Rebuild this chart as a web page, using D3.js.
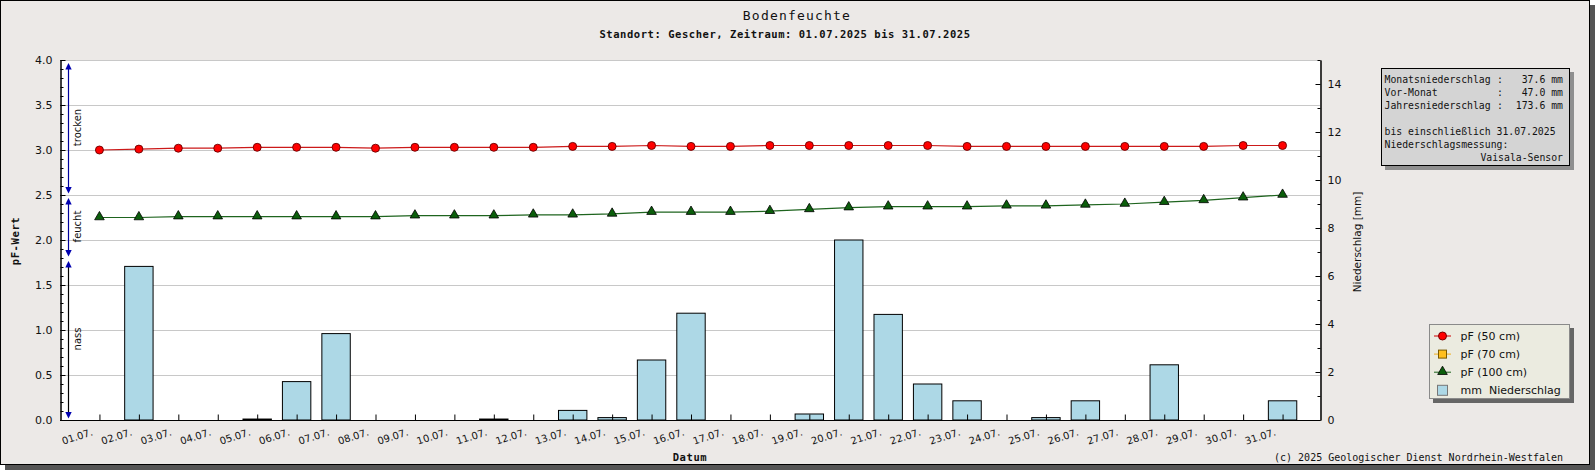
<!DOCTYPE html>
<html>
<head>
<meta charset="utf-8">
<script src="https://cdn.jsdelivr.net/npm/d3@7"></script>
<style>
  body { margin: 0; background: #fff; }
  #viz svg { display: block; }
</style>
</head>
<body>
<div id="viz"></div>
<script>
// Tageswerte Juli 2025
const days = d3.range(1, 32);
const dayLabels = days.map(d => String(d).padStart(2, '0') + '.07.');
const pf50 = [3.00, 3.01, 3.02, 3.02, 3.03, 3.03, 3.03, 3.02, 3.03, 3.03, 3.03, 3.03, 3.04, 3.04, 3.05,
  3.04, 3.04, 3.05, 3.05, 3.05, 3.05, 3.05, 3.04, 3.04, 3.04, 3.04, 3.04, 3.04, 3.04, 3.05, 3.05];
const pf70 = [];
const pf100 = [2.25, 2.25, 2.26, 2.26, 2.26, 2.26, 2.26, 2.26, 2.27, 2.27, 2.27, 2.28, 2.28, 2.29, 2.31,
  2.31, 2.31, 2.32, 2.34, 2.36, 2.37, 2.37, 2.37, 2.38, 2.38, 2.39, 2.40, 2.42, 2.44, 2.47, 2.50];
const rain = [0, 6.4, 0, 0, 0.04, 1.6, 3.6, 0, 0, 0, 0.04, 0, 0.4, 0.1, 2.5,
  4.45, 0, 0, 0.25, 7.5, 4.4, 1.5, 0.8, 0, 0.1, 0.8, 0, 2.3, 0, 0, 0.8];

const pfTicks = [0, 0.5, 1, 1.5, 2, 2.5, 3, 3.5, 4];
const pfMinor = d3.range(0, 41).map(i => i / 10);
const mmTicks = [0, 2, 4, 6, 8, 10, 12, 14];
const mmMinor = [1, 3, 5, 7, 9, 11, 13, 15];

const zones = [
  { name: 'trocken', from: 2.5, to: 4.0, line: '#00009c' },
  { name: 'feucht', from: 1.8, to: 2.5, line: '#00009c' },
  { name: 'nass', from: 0, to: 1.8, line: '#000' }
];

const infoRows = [
  ['Monatsniederschlag', '37.6 mm'],
  ['Vor-Monat', '47.0 mm'],
  ['Jahresniederschlag', '173.6 mm']
];

const legendItems = [
  { label: 'pF (50 cm)', type: 'circle', color: '#ff0000', stroke: '#7a0000', line: '#cc0000' },
  { label: 'pF (70 cm)', type: 'square', color: '#ffbf1f', stroke: '#7a5a00', line: '#f0b020' },
  { label: 'pF (100 cm)', type: 'triangle', color: '#0b5e0b', stroke: '#000', line: '#1e641e' },
  { label: 'mm  Niederschlag', type: 'box', color: '#add8e6', stroke: '#777' }
];

const W = 1595, H = 470;
const L = 60, R = 1320, T = 60, B = 420;
const mono = '"DejaVu Sans Mono", monospace';
const sans = '"DejaVu Sans", sans-serif';

const svg = d3.select('#viz').append('svg')
  .attr('width', W)
  .attr('height', H);

// RAHMEN mit Schatten
svg.append('rect').attr('x', 5).attr('y', 5).attr('width', W - 5).attr('height', H - 5).attr('fill', '#555');
svg.append('rect').attr('x', 0.5).attr('y', 0.5).attr('width', 1589).attr('height', 464)
  .attr('fill', '#ece9e7').attr('stroke', '#000');

const x = d3.scaleLinear().domain([0, 32]).range([L, 1322]);
const yL = d3.scaleLinear().domain([0, 4]).range([B, T]);
const yR = d3.scaleLinear().domain([0, 15]).range([B, T]);

svg.append('rect').attr('x', L).attr('y', T).attr('width', R - L).attr('height', B - T).attr('fill', '#fff');

// GRID
svg.append('g').selectAll('line').data(pfTicks.filter(d => d > 0)).join('line')
  .attr('x1', L).attr('x2', R)
  .attr('y1', d => yL(d) + 0.5).attr('y2', d => yL(d) + 0.5)
  .attr('stroke', '#c8c8c8');

// NIEDERSCHLAG
const bw = 28.4;
svg.append('g').selectAll('rect').data(days).join('rect')
  .attr('x', (d, i) => x(d) - bw / 2)
  .attr('y', (d, i) => yR(rain[i]))
  .attr('width', bw)
  .attr('height', (d, i) => B - yR(rain[i]))
  .attr('fill', '#add8e6')
  .attr('stroke', '#000')
  .attr('display', (d, i) => rain[i] > 0 ? null : 'none');

// LINIEN
const line = d3.line().x(d => x(d[0])).y(d => yL(d[1]));
const s50 = days.map((d, i) => [d, pf50[i]]);
const s100 = days.map((d, i) => [d, pf100[i]]);
svg.append('path').datum(s50).attr('d', line).attr('fill', 'none').attr('stroke', '#cc1a1a').attr('stroke-width', 1.2);
svg.append('path').datum(s100).attr('d', line).attr('fill', 'none').attr('stroke', '#1e641e').attr('stroke-width', 1.2);

svg.append('g').selectAll('circle').data(s50).join('circle')
  .attr('cx', d => x(d[0])).attr('cy', d => yL(d[1])).attr('r', 4)
  .attr('fill', '#ff0000').attr('stroke', '#6a0000').attr('stroke-width', 0.9);
const tri = d3.symbol(d3.symbolTriangle).size(40);
svg.append('g').selectAll('path').data(s100).join('path')
  .attr('transform', d => `translate(${x(d[0])},${yL(d[1]) - 0.5})`)
  .attr('d', tri)
  .attr('fill', '#0b5e0b').attr('stroke', '#000').attr('stroke-width', 0.8);

// ACHSEN
function styleAxis(g) {
  g.selectAll('.domain').attr('stroke', '#000');
  g.selectAll('.tick line').attr('stroke', '#000');
  g.selectAll('text').attr('fill', '#111').attr('font-family', sans).attr('font-size', 11);
}
svg.append('g').attr('transform', `translate(${L + 0.5},0)`)
  .call(d3.axisLeft(yL).tickValues(pfMinor).tickSizeInner(-3).tickSizeOuter(0).tickFormat(''))
  .call(styleAxis);
svg.append('g').attr('transform', `translate(${L + 0.5},0)`)
  .call(d3.axisLeft(yL).tickValues(pfTicks).tickSizeInner(-5).tickSizeOuter(0).tickPadding(8).tickFormat(d3.format('.1f')))
  .call(styleAxis);

svg.append('g').attr('transform', `translate(${R + 0.5},0)`)
  .call(d3.axisRight(yR).tickValues(mmMinor).tickSizeInner(-3).tickSizeOuter(0).tickFormat(''))
  .call(styleAxis);
svg.append('g').attr('transform', `translate(${R + 0.5},0)`)
  .call(d3.axisRight(yR).tickValues(mmTicks).tickSizeInner(-5).tickSizeOuter(0).tickPadding(7))
  .call(styleAxis);

const xAxis = svg.append('g').attr('transform', `translate(0,${B + 0.5})`)
  .call(d3.axisBottom(x).tickValues(days).tickSizeInner(-6).tickSizeOuter(0).tickFormat(''))
  .call(styleAxis);
xAxis.select('.domain').attr('d', `M${L},0H${R + 0.5}`);

svg.append('g').selectAll('text').data(days).join('text')
  .attr('transform', d => `translate(${x(d) - 6},${B + 15}) rotate(-18)`)
  .attr('text-anchor', 'end')
  .attr('font-family', sans).attr('font-size', 10).attr('fill', '#111')
  .text((d, i) => dayLabels[i]);

// ZONEN
const zx = 68.5;
const zg = svg.append('g');
zones.forEach(z => {
  const yTop = yL(z.to) + 3, yBot = yL(z.from) - 1.5;
  zg.append('line').attr('x1', zx).attr('x2', zx).attr('y1', yTop + 4).attr('y2', yBot - 4)
    .attr('stroke', z.line).attr('stroke-width', 1.2);
  zg.append('path').attr('d', `M${zx},${yTop}l-3.2,6.5h6.4z`).attr('fill', '#0000b0');
  zg.append('path').attr('d', `M${zx},${yBot}l-3.2,-6.5h6.4z`).attr('fill', '#0000b0');
  zg.append('text')
    .attr('transform', `translate(${zx + 12},${(yL(z.to) + yL(z.from)) / 2}) rotate(-90)`)
    .attr('text-anchor', 'middle')
    .attr('font-family', sans).attr('font-size', 10).attr('fill', '#111')
    .text(z.name);
});

// TITEL
svg.append('text').attr('x', 797).attr('y', 19.5).attr('text-anchor', 'middle')
  .attr('font-family', mono).attr('font-size', 13).attr('letter-spacing', 1.2).attr('fill', '#111')
  .text('Bodenfeuchte');
svg.append('text').attr('x', 785).attr('y', 37.5).attr('text-anchor', 'middle')
  .attr('font-family', mono).attr('font-weight', 'bold').attr('font-size', 10.5).attr('letter-spacing', 0.55).attr('fill', '#111')
  .text('Standort: Gescher, Zeitraum: 01.07.2025 bis 31.07.2025');

svg.append('text').attr('x', 690).attr('y', 461).attr('text-anchor', 'middle')
  .attr('font-family', mono).attr('font-weight', 'bold').attr('font-size', 10.5).attr('letter-spacing', 0.6).attr('fill', '#111')
  .text('Datum');
svg.append('text').attr('transform', 'translate(19,241) rotate(-90)').attr('text-anchor', 'middle')
  .attr('font-family', mono).attr('font-weight', 'bold').attr('font-size', 10.5).attr('letter-spacing', 0.6).attr('fill', '#111')
  .text('pF-Wert');
svg.append('text').attr('transform', 'translate(1361,242) rotate(-90)').attr('text-anchor', 'middle')
  .attr('font-family', sans).attr('font-size', 10.5).attr('fill', '#111')
  .text('Niederschlag [mm]');
svg.append('text').attr('x', 1563).attr('y', 461).attr('text-anchor', 'end')
  .attr('font-family', mono).attr('font-size', 10).attr('fill', '#111')
  .text('(c) 2025 Geologischer Dienst Nordrhein-Westfalen');

// INFOBOX
const ib = svg.append('g');
ib.append('rect').attr('x', 1385).attr('y', 72).attr('width', 189).attr('height', 98).attr('fill', '#8f8f8f');
ib.append('rect').attr('x', 1381.5).attr('y', 68.5).attr('width', 188).attr('height', 97)
  .attr('fill', '#d4d4d4').attr('stroke', '#000');
const itxt = (xx, yy, s, anchor) => ib.append('text').attr('x', xx).attr('y', yy)
  .attr('text-anchor', anchor || 'start')
  .attr('font-family', mono).attr('font-size', 9.8).attr('fill', '#111').text(s);
infoRows.forEach((r, i) => {
  const yy = 83 + i * 13;
  itxt(1384.5, yy, r[0]);
  itxt(1497, yy, ':');
  itxt(1563, yy, r[1], 'end');
});
itxt(1384.5, 135, 'bis einschließlich 31.07.2025');
itxt(1384.5, 148, 'Niederschlagsmessung:');
itxt(1563, 161, 'Vaisala-Sensor', 'end');

// LEGENDE
const lg = svg.append('g');
lg.append('rect').attr('x', 1433).attr('y', 328).attr('width', 141).attr('height', 75).attr('fill', '#666');
lg.append('rect').attr('x', 1429.5).attr('y', 324.5).attr('width', 140).attr('height', 74)
  .attr('fill', '#ebebe0').attr('stroke', '#8a8a8a');
legendItems.forEach((it, i) => {
  const cy = 336 + i * 18.1, cx = 1442.5;
  if (it.line) lg.append('line').attr('x1', 1434).attr('x2', 1451).attr('y1', cy).attr('y2', cy).attr('stroke', it.line);
  if (it.type === 'circle') lg.append('circle').attr('cx', cx).attr('cy', cy).attr('r', 4).attr('fill', it.color).attr('stroke', it.stroke);
  if (it.type === 'square') lg.append('rect').attr('x', cx - 4).attr('y', cy - 4).attr('width', 8).attr('height', 8).attr('fill', it.color).attr('stroke', it.stroke);
  if (it.type === 'triangle') lg.append('path').attr('transform', `translate(${cx},${cy - 0.5})`).attr('d', tri).attr('fill', it.color).attr('stroke', it.stroke).attr('stroke-width', 0.8);
  if (it.type === 'box') lg.append('rect').attr('x', cx - 5).attr('y', cy - 5).attr('width', 10).attr('height', 10).attr('fill', it.color).attr('stroke', it.stroke);
  lg.append('text').attr('x', 1460.5).attr('y', cy + 4)
    .attr('font-family', sans).attr('font-size', 11).attr('fill', '#111')
    .attr('xml:space', 'preserve').style('white-space', 'pre')
    .text(it.label);
});
</script>
</body>
</html>
